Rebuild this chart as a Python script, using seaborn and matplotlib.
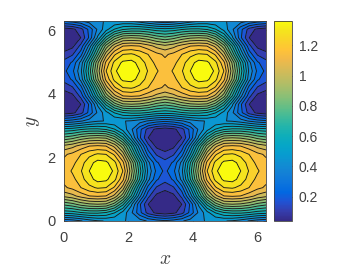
import numpy as np
import matplotlib
matplotlib.use("Agg")
import matplotlib.pyplot as plt
import seaborn as sns
from matplotlib.cm import ScalarMappable
from matplotlib.colors import Normalize

# Field values, row by row from y=0 upward (step pi/12 in x and y)
field_rows = [
 [.33,.35,.38,.42,.45,.46,.46,.46,.45,.42,.38,.35,.33,.35,.38,.42,.45,.46,.46,.46,.45,.42,.38,.35,.33],
 [.62,.63,.66,.68,.68,.66,.60,.50,.40,.27,.15,.09,.07,.09,.15,.27,.40,.50,.60,.66,.68,.68,.66,.63,.62],
 [.82,.85,.90,.93,.94,.93,.84,.68,.47,.26,.11,.05,.04,.05,.11,.26,.47,.68,.84,.93,.94,.93,.90,.85,.82],
 [1.03,1.06,1.11,1.15,1.16,1.15,1.06,.90,.66,.41,.20,.09,.05,.09,.20,.41,.66,.90,1.06,1.15,1.16,1.15,1.11,1.06,1.03],
 [1.14,1.17,1.22,1.27,1.30,1.29,1.21,1.05,.78,.52,.29,.17,.14,.17,.29,.52,.78,1.05,1.21,1.29,1.30,1.27,1.22,1.17,1.14],
 [1.17,1.20,1.26,1.335,1.385,1.375,1.31,1.17,.93,.66,.41,.26,.20,.26,.41,.66,.93,1.17,1.31,1.375,1.385,1.335,1.26,1.20,1.17],
 [1.18,1.23,1.285,1.36,1.415,1.41,1.345,1.22,.97,.70,.44,.30,.23,.30,.44,.70,.97,1.22,1.345,1.41,1.415,1.36,1.285,1.23,1.18],
 [1.17,1.20,1.26,1.335,1.385,1.375,1.31,1.17,.93,.66,.41,.26,.20,.26,.41,.66,.93,1.17,1.31,1.375,1.385,1.335,1.26,1.20,1.17],
 [1.14,1.17,1.22,1.27,1.30,1.29,1.21,1.05,.78,.52,.29,.17,.14,.17,.29,.52,.78,1.05,1.21,1.29,1.30,1.27,1.22,1.17,1.14],
 [1.03,1.06,1.11,1.15,1.16,1.15,1.06,.90,.66,.41,.20,.09,.05,.09,.20,.41,.66,.90,1.06,1.15,1.16,1.15,1.11,1.06,1.03],
 [.82,.85,.90,.93,.94,.93,.84,.68,.47,.26,.11,.05,.04,.05,.11,.26,.47,.68,.84,.93,.94,.93,.90,.85,.82],
 [.62,.63,.66,.68,.68,.66,.60,.50,.40,.27,.15,.09,.07,.09,.15,.27,.40,.50,.60,.66,.68,.68,.66,.63,.62],
 [.33,.35,.38,.42,.45,.46,.46,.46,.45,.42,.38,.35,.33,.35,.38,.42,.45,.46,.46,.46,.45,.42,.38,.35,.33],
 [.07,.09,.15,.27,.40,.50,.60,.66,.68,.68,.66,.63,.62,.63,.66,.68,.68,.66,.60,.50,.40,.27,.15,.09,.07],
 [.04,.05,.11,.26,.47,.68,.84,.93,.94,.93,.90,.85,.82,.85,.90,.93,.94,.93,.84,.68,.47,.26,.11,.05,.04],
 [.05,.09,.20,.41,.66,.90,1.06,1.15,1.16,1.15,1.11,1.06,1.03,1.06,1.11,1.15,1.16,1.15,1.06,.90,.66,.41,.20,.09,.05],
 [.14,.17,.29,.52,.78,1.05,1.21,1.29,1.30,1.27,1.22,1.17,1.14,1.17,1.22,1.27,1.30,1.29,1.21,1.05,.78,.52,.29,.17,.14],
 [.20,.26,.41,.66,.93,1.17,1.31,1.375,1.385,1.335,1.26,1.20,1.17,1.20,1.26,1.335,1.385,1.375,1.31,1.17,.93,.66,.41,.26,.20],
 [.23,.30,.44,.70,.97,1.22,1.345,1.41,1.415,1.36,1.285,1.23,1.18,1.23,1.285,1.36,1.415,1.41,1.345,1.22,.97,.70,.44,.30,.23],
 [.20,.26,.41,.66,.93,1.17,1.31,1.375,1.385,1.335,1.26,1.20,1.17,1.20,1.26,1.335,1.385,1.375,1.31,1.17,.93,.66,.41,.26,.20],
 [.14,.17,.29,.52,.78,1.05,1.21,1.29,1.30,1.27,1.22,1.17,1.14,1.17,1.22,1.27,1.30,1.29,1.21,1.05,.78,.52,.29,.17,.14],
 [.05,.09,.20,.41,.66,.90,1.06,1.15,1.16,1.15,1.11,1.06,1.03,1.06,1.11,1.15,1.16,1.15,1.06,.90,.66,.41,.20,.09,.05],
 [.04,.05,.11,.26,.47,.68,.84,.93,.94,.93,.90,.85,.82,.85,.90,.93,.94,.93,.84,.68,.47,.26,.11,.05,.04],
 [.07,.09,.15,.27,.40,.50,.60,.66,.68,.68,.66,.63,.62,.63,.66,.68,.68,.66,.60,.50,.40,.27,.15,.09,.07],
 [.33,.35,.38,.42,.45,.46,.46,.46,.45,.42,.38,.35,.33,.35,.38,.42,.45,.46,.46,.46,.45,.42,.38,.35,.33],
]
x_ticks = [0, 2, 4, 6]
y_ticks = [0, 2, 4, 6]
cbar_ticks = [0.2, 0.4, 0.6, 0.8, 1.0, 1.2]
cbar_labels = ["0.2", "0.4", "0.6", "0.8", "1", "1.2"]

sns.set_theme(style="ticks")
plt.rcParams["font.family"] = ["Liberation Sans", "DejaVu Sans"]
plt.rcParams["mathtext.fontset"] = "cm"

anchors = [(.2081,.1663,.5292),(.2081,.2386,.6771),(.1253,.3242,.8303),(.0060,.4086,.8828),
           (.0498,.4586,.8641),(.0779,.5040,.8384),(.0641,.5570,.8240),(.0265,.6137,.8135),
           (.0228,.6535,.7768),(.0590,.6838,.7254),(.1453,.7098,.6646),(.2586,.7317,.5954),
           (.3953,.7459,.5244),(.5300,.7491,.4661),(.6473,.7456,.4188),(.7525,.7384,.3768),
           (.8507,.7299,.3360),(.9450,.7261,.2886),(.9990,.7653,.2164),(.9789,.8271,.1633),
           (.9589,.8949,.1132),(.9763,.9831,.0538)]
parula = sns.blend_palette(anchors, n_colors=256, as_cmap=True)

W, H = 363, 273
fig = plt.figure(figsize=(W/100, H/100), dpi=100)
ax = fig.add_axes([64/W, 1-221/H, 202/W, 200/H])
cax = fig.add_axes([274/W, 1-221/H, 18/W, 200/H])

Z = np.array(field_rows)
grid = np.linspace(0, 2*np.pi, Z.shape[0])
levels = np.linspace(0.04, 1.36, 20)
norm = Normalize(0.04, 1.36)
band_edges = list(levels) + [1.5]
band_colors = [parula(norm(v)) for v in levels]
ax.contourf(grid, grid, Z, levels=band_edges, colors=band_colors, extend="min")
ax.contour(grid, grid, Z, levels=levels, colors="k", linewidths=0.65)

dark = "#404040"
ax.set_xlim(0, 2*np.pi)
ax.set_ylim(0, 2*np.pi)
ax.set_xticks(x_ticks)
ax.set_yticks(y_ticks)
ax.tick_params(direction="in", top=True, right=True, length=2, width=0.5, color=dark,
               labelcolor=dark, labelsize=10.5)
ax.tick_params(axis="x", pad=7)
ax.tick_params(axis="y", pad=6)
for s in ax.spines.values():
    s.set_linewidth(0.6)
    s.set_color(dark)
ax.set_xlabel(r"$x$", fontsize=14, color=dark)
ax.set_ylabel(r"$y$", fontsize=14, color=dark)
ax.xaxis.set_label_coords(0.5, -0.195)
ax.yaxis.set_label_coords(-0.153, 0.5)
ax.xaxis.label.set_va("center")
ax.yaxis.label.set_va("center")

cb = fig.colorbar(ScalarMappable(norm=norm, cmap=parula), cax=cax)
cb.set_ticks(cbar_ticks, labels=cbar_labels)
cax.tick_params(direction="in", length=2, width=0.5, color=dark, labelcolor=dark, labelsize=10, pad=5)
cb.outline.set_linewidth(0.6)
cb.outline.set_edgecolor(dark)

fig.savefig("out.png", dpi=100)
